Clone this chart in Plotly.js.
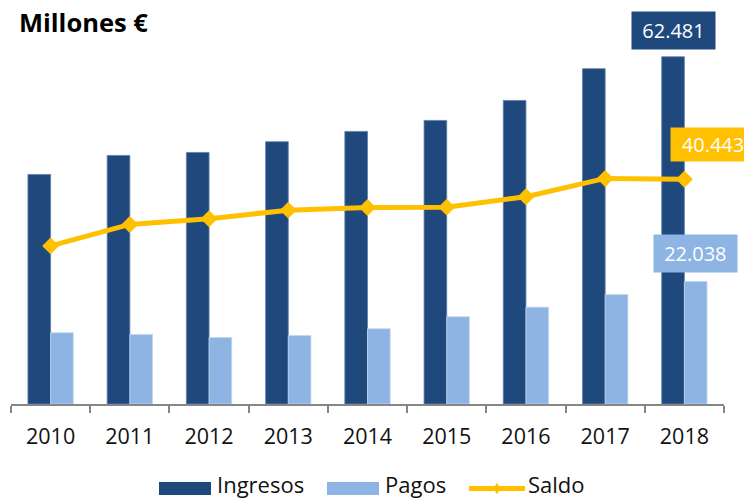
<!DOCTYPE html>
<html>
<head>
<meta charset="utf-8">
<script src="https://cdn.plot.ly/plotly-3.0.1.min.js"></script>
<style>html,body{margin:0;padding:0;background:#fff;}#chart{width:744px;height:499px;}</style>
</head>
<body>
<div id="chart"></div>
<script>
const years = ['2010','2011','2012','2013','2014','2015','2016','2017','2018'];
const ingresos = [41310, 44730, 45270, 47200, 49050, 51030, 54630, 60340, 62481];
const pagos = [12820, 12510, 11970, 12330, 13540, 15700, 17420, 19710, 22038];
const saldo = [28450, 32310, 33340, 34880, 35370, 35420, 37300, 40590, 40443];
const seriesNames = ['Ingresos', 'Pagos', 'Saldo'];

const C_DARK = '#1F497D';
const C_LIGHT = '#8EB4E3';
const C_GOLD = '#FFC000';
const FONT = 'Open Sans, Liberation Sans, sans-serif';

const fmt = v => v.toLocaleString('de-DE');
const last = years.length - 1;

const traces = [
  {type:'bar', name:seriesNames[0], x:years, y:ingresos, marker:{color:C_DARK, line:{color:'#5f7fa8', width:0.8}}},
  {type:'bar', name:seriesNames[1], x:years, y:pagos, marker:{color:C_LIGHT, line:{color:'#c3d6ef', width:0.8}}},
  {type:'scatter', mode:'lines+markers', name:seriesNames[2], x:years, y:saldo,
   line:{color:C_GOLD, width:5}, marker:{symbol:'diamond', size:13, color:C_GOLD}, cliponaxis:false}
];

// plot area in pixels: x 11..724, y 25..404
const L = 11, R = 724, T = 25, B = 404;
const xp = px => (px - L) / (R - L);
const yp = py => (B - py) / (B - T);

const shapes = [
  {type:'rect', xref:'paper', yref:'paper', x0:xp(159), x1:xp(211), y0:yp(495), y1:yp(482), fillcolor:C_DARK, line:{width:0}},
  {type:'rect', xref:'paper', yref:'paper', x0:xp(327), x1:xp(379), y0:yp(495), y1:yp(482), fillcolor:C_LIGHT, line:{width:0}},
  {type:'line', xref:'paper', yref:'paper', x0:xp(469), x1:xp(525), y0:yp(488.5), y1:yp(488.5), line:{color:C_GOLD, width:5}},
  {type:'path', xref:'paper', yref:'paper',
   path:`M ${xp(497)},${yp(483)} L ${xp(501)},${yp(488.5)} L ${xp(497)},${yp(494)} L ${xp(493)},${yp(488.5)} Z`,
   fillcolor:C_GOLD, line:{width:0}}
];

const legFont = {family:FONT, size:22, color:'#111'};
const annotations = [
  {xref:'paper', yref:'paper', x:xp(215), y:yp(484), xanchor:'left', yanchor:'middle', text:seriesNames[0], showarrow:false, font:legFont},
  {xref:'paper', yref:'paper', x:xp(383), y:yp(484), xanchor:'left', yanchor:'middle', text:seriesNames[1], showarrow:false, font:legFont},
  {xref:'paper', yref:'paper', x:xp(526), y:yp(484), xanchor:'left', yanchor:'middle', text:seriesNames[2], showarrow:false, font:legFont},
  {x:last, y:ingresos[last], xref:'x', yref:'y', xshift:-11.3, yshift:7, xanchor:'center', yanchor:'bottom',
   text:fmt(ingresos[last]), showarrow:false, bgcolor:C_DARK, borderpad:6, width:71, height:25,
   font:{family:FONT, size:20, color:'#fff'}},
  {x:last, y:saldo[last], xref:'x', yref:'y', xshift:-14.4, yshift:17, xanchor:'left', yanchor:'bottom',
   text:fmt(saldo[last]), showarrow:false, bgcolor:C_GOLD, borderpad:6, width:72, height:21,
   font:{family:FONT, size:20, color:'#fff'}},
  {x:last, y:pagos[last], xref:'x', yref:'y', xshift:11.3, yshift:8.6, xanchor:'center', yanchor:'bottom',
   text:fmt(pagos[last]), showarrow:false, bgcolor:C_LIGHT, borderpad:6, width:70.7, height:24.7,
   font:{family:FONT, size:20, color:'#fff'}}
];

const layout = {
  width:744, height:499,
  margin:{l:L, r:744-R, t:T, b:499-B, pad:0},
  paper_bgcolor:'#fff', plot_bgcolor:'#fff',
  showlegend:false,
  barmode:'group', bargap:0.428, bargroupgap:0,
  title:{text:'<b>Millones €</b>', font:{family:FONT, size:25.5, color:'#000'}, x:19/744, xanchor:'left', xref:'container', y:1-23.5/499, yanchor:'middle', yref:'container'},
  xaxis:{type:'category', range:[-0.5, years.length - 0.5], autorange:false, showline:true, linecolor:'#868686', linewidth:2, ticks:'outside', tickson:'boundaries',
         ticklen:7, tickwidth:2, tickcolor:'#868686', showgrid:false, zeroline:false, tickangle:0, ticklabelstandoff:12,
         tickfont:{family:FONT, size:21.5, color:'#111'}, fixedrange:true},
  yaxis:{range:[0, 68200], autorange:false, visible:false, showgrid:false, zeroline:false, fixedrange:true},
  shapes:shapes,
  annotations:annotations,
  font:{family:FONT}
};

Plotly.newPlot('chart', traces, layout, {displayModeBar:false, staticPlot:true});
</script>
</body>
</html>
